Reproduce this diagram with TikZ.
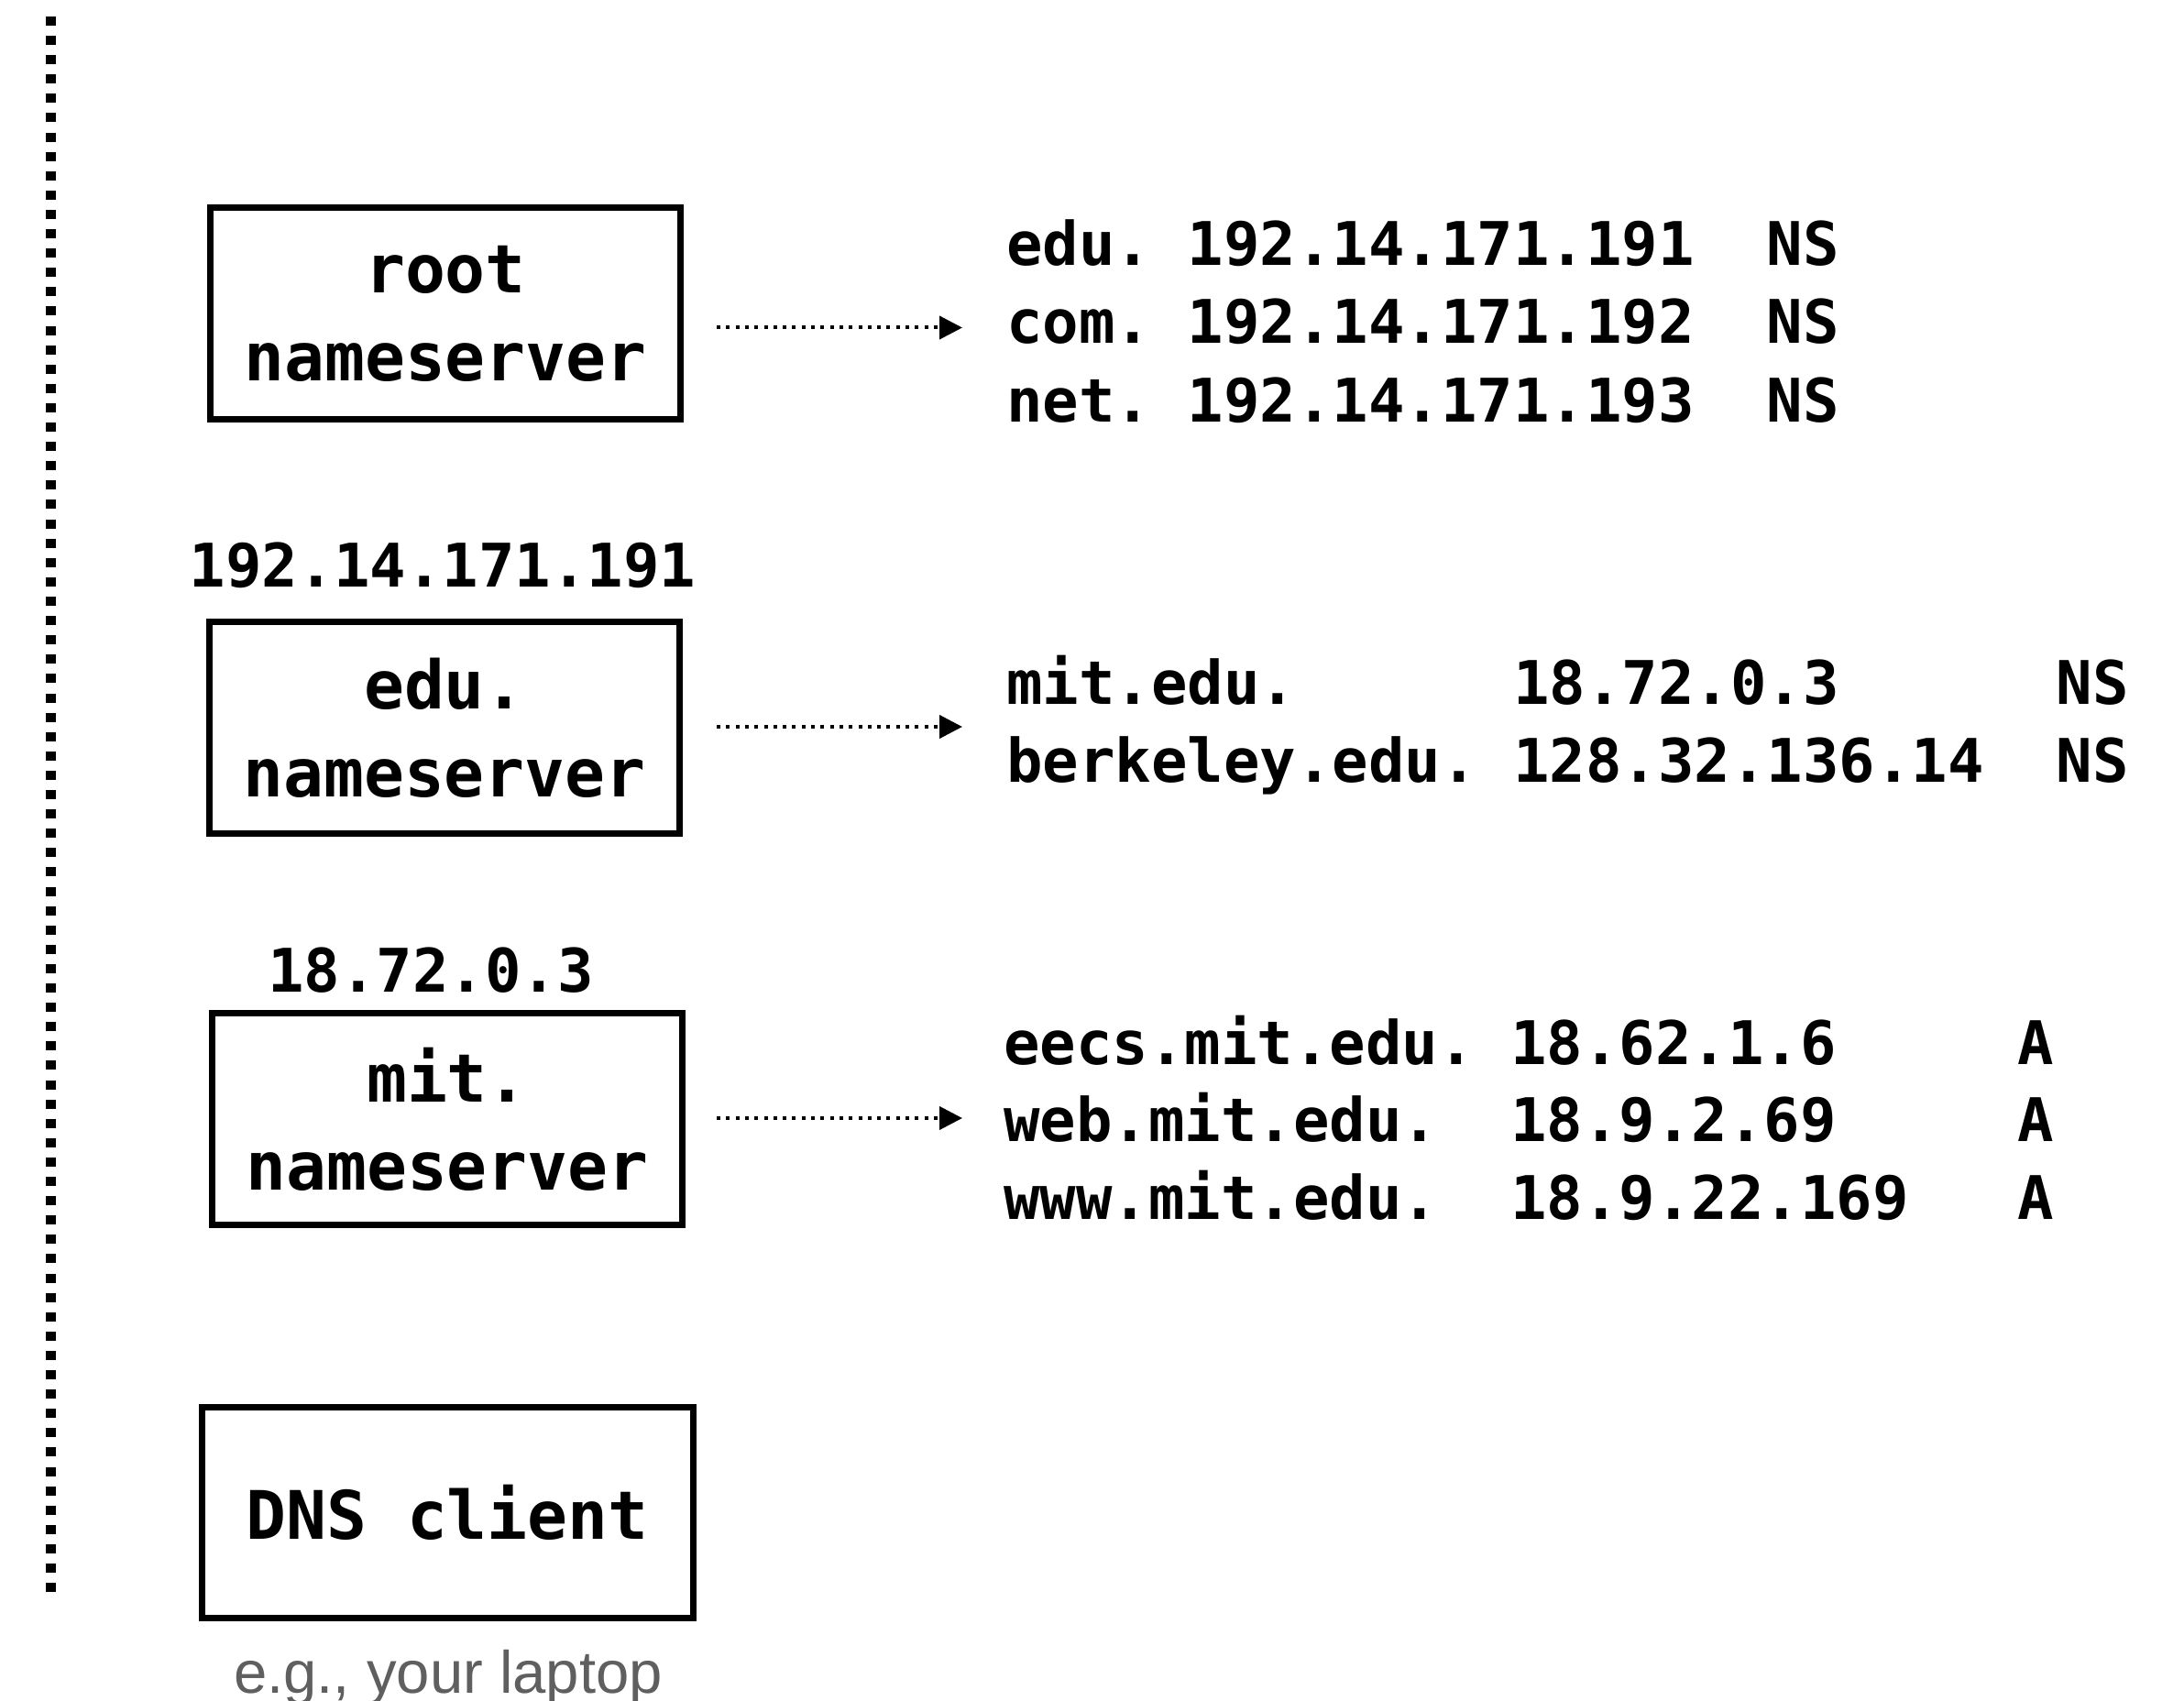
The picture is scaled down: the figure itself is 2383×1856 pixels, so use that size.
\documentclass[tikz,border=0pt]{standalone}
\usepackage{fontspec}
\setmonofont{DejaVu Sans Mono}
\newfontfamily\capfont{Liberation Sans}
\usetikzlibrary{arrows.meta}
\definecolor{capgray}{RGB}{95,95,95}
\newcommand{\sk}[1]{\hphantom{#1}}
\tikzset{
  box/.style={draw, line width=3.5pt, minimum width=256.5pt, minimum height=115.5pt,
    inner sep=0pt, align=center, font=\ttfamily\bfseries\fontsize{36.5}{48}\selectfont},
  rec/.style={anchor=base west, inner sep=0pt, font=\ttfamily\bfseries\fontsize{32.8}{40}\selectfont},
  iplabel/.style={anchor=base, inner sep=0pt, font=\ttfamily\bfseries\fontsize{32.8}{40}\selectfont},
  arr/.style={line width=2pt, dash pattern=on 2pt off 3.15pt, -{Triangle[length=12.5pt,width=12.5pt]}},
  sepline/.style={line width=5.5pt, dash pattern=on 5pt off 5.55pt},
  caption/.style={anchor=base, inner sep=0pt, text=capgray, font=\capfont\fontsize{32.6}{38}\selectfont},
}
\begin{document}
\begin{tikzpicture}[x=0.5pt, y=-0.5pt]
\useasboundingbox (0,0) rectangle (2383,1856);
% separator
\coordinate (lt) at (55.5,18);
\coordinate (lb) at (55.5,1737);
\draw[sepline] (lt) -- (lb);
% boxes
\node[box] (root) at (486,342) {root\\nameserver};
\node[box] (edu) at (485,794) {edu.\\nameserver};
\node[box] (mit) at (488,1221) {mit.\\nameserver};
\node[box, minimum width=268pt, minimum height=115pt] (dns) at (488,1650) {DNS client};
% address labels
\node[iplabel] (eduip) at (483,640) {192.14.171.191};
\node[iplabel] (mitip) at (470,1082) {18.72.0.3};
\node[caption] (laptop) at (489,1847) {e.g., your laptop};
% root records
\node[rec] (r1) at (1098,290) {edu.\sk{0}192.14.171.191\sk{00}NS};
\node[rec] (r2) at (1098,375) {com.\sk{0}192.14.171.192\sk{00}NS};
\node[rec] (r3) at (1098,460) {net.\sk{0}192.14.171.193\sk{00}NS};
% edu records
\node[rec] (e1) at (1098,768) {mit.edu.\sk{000000}18.72.0.3\sk{000000}NS};
\node[rec] (e2) at (1098,853) {berkeley.edu.\sk{0}128.32.136.14\sk{00}NS};
% mit records
\node[rec] (m1) at (1095,1161) {eecs.mit.edu.\sk{0}18.62.1.6\sk{00000}A};
\node[rec] (m2) at (1095,1245) {web.mit.edu.\sk{00}18.9.2.69\sk{00000}A};
\node[rec] (m3) at (1095,1330) {www.mit.edu.\sk{00}18.9.22.169\sk{000}A};
% arrows
\coordinate (a1s) at (782,357.5);
\coordinate (a1e) at (1050,357.5);
\coordinate (a2s) at (782,793);
\coordinate (a2e) at (1050,793);
\coordinate (a3s) at (782,1220);
\coordinate (a3e) at (1050,1220);
\draw[arr] (a1s) -- (a1e);
\draw[arr] (a2s) -- (a2e);
\draw[arr] (a3s) -- (a3e);
\end{tikzpicture}
\end{document}
